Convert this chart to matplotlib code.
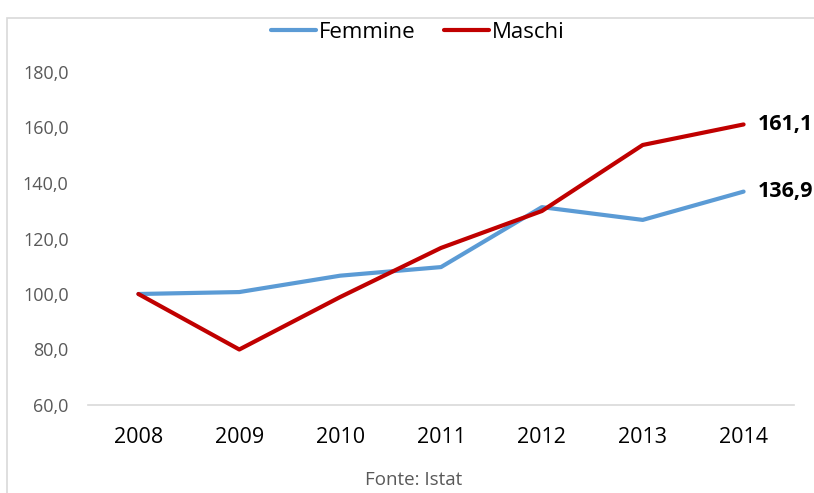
import matplotlib
matplotlib.use("Agg")
from matplotlib import pyplot as plt
from matplotlib.patches import Rectangle

# indici (2008 = 100)
anni = ["2008", "2009", "2010", "2011", "2012", "2013", "2014"]
femmine = [100.0, 100.7, 106.6, 109.7, 131.3, 126.7, 136.9]
maschi = [100.0, 80.0, 98.9, 116.6, 129.9, 153.7, 161.1]
yticks = [60, 80, 100, 120, 140, 160, 180]

plt.rcParams['font.family'] = ['Open Sans', 'DejaVu Sans']

fig = plt.figure(figsize=(8.14, 4.93), dpi=100)
ax = fig.add_axes([88 / 814, 1 - 405 / 493, 706 / 814, 333 / 493])

x = list(range(len(anni)))
ax.plot(x, femmine, color='#5B9BD5', lw=3, label='Femmine', solid_capstyle='round')
ax.plot(x, maschi, color='#C00000', lw=3, label='Maschi', solid_capstyle='round')

ax.set_xlim(-0.5, len(anni) - 0.5)
ax.set_ylim(60, 180)
ax.set_xticks(x)
ax.set_xticklabels(anni, fontsize=15.5, color='black')
ax.set_yticks(yticks)
ax.set_yticklabels([f"{v:.1f}".replace('.', ',') for v in yticks], fontsize=13, color='#595959')
ax.tick_params(length=0)
ax.tick_params(axis='x', pad=16)
ax.tick_params(axis='y', pad=14)

for s in ['top', 'right', 'left']:
    ax.spines[s].set_visible(False)
ax.spines['bottom'].set_color('#D9D9D9')
ax.spines['bottom'].set_linewidth(1.2)

# valori finali
for serie in (femmine, maschi):
    ax.annotate(f"{serie[-1]:.1f}".replace('.', ','), (x[-1], serie[-1]),
                xytext=(10, 0), textcoords='offset points', va='center', ha='left',
                fontsize=15.5, fontweight='bold', color='black', annotation_clip=False)

fig.legend(loc='center', bbox_to_anchor=(418 / 814, 1 - 32 / 493), ncol=2, frameon=False,
           fontsize=16, handlelength=2.0, handletextpad=0.15, columnspacing=1.3)

fig.text(414 / 814, 1 - 480 / 493, "Fonte: Istat", ha='center', va='center',
         fontsize=13.5, color='#595959')

# cornice del grafico
fig.patches.append(Rectangle((7 / 814, -0.1), 1.2, 1 - 18 / 493 + 0.1, transform=fig.transFigure,
                             fill=False, edgecolor='#D9D9D9', lw=1.2))

fig.savefig("out.png", dpi=100)
